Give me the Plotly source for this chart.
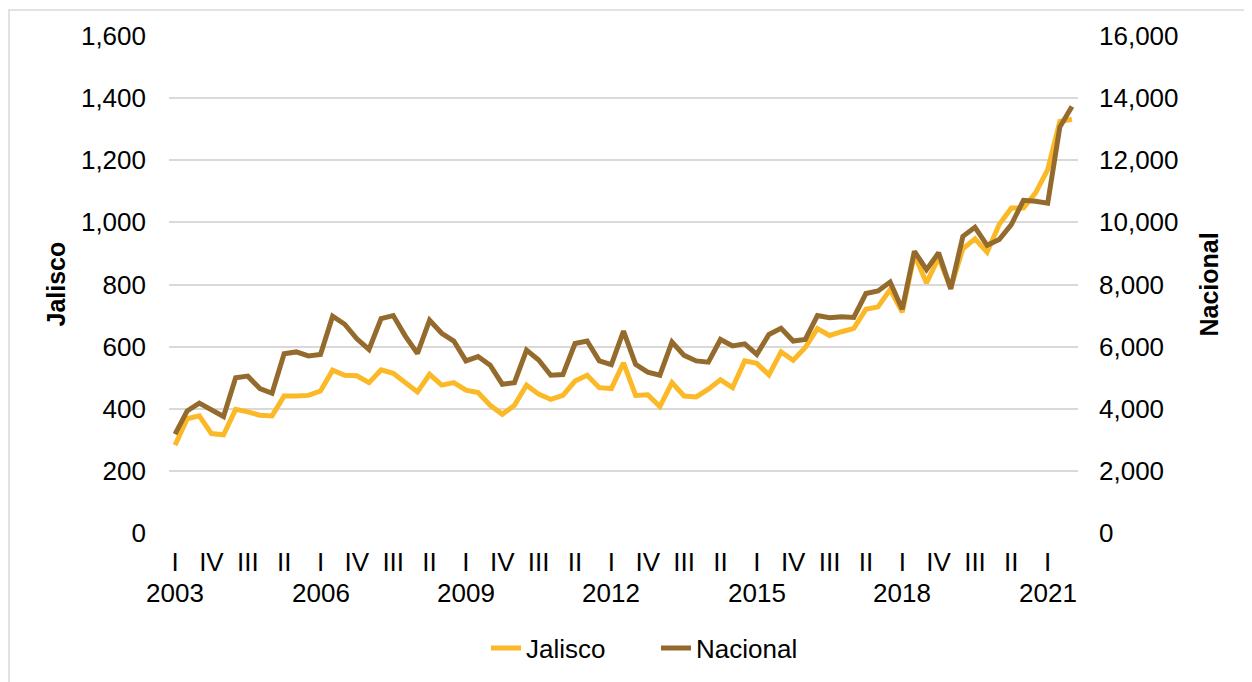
import plotly.graph_objects as go

YEARS = list(range(2003, 2022))
QUARTERS = ["I", "II", "III", "IV"]
periods = [f"{y}-{q}" for y in YEARS for q in QUARTERS][:75]  # 2003-I .. 2021-III

jalisco = [283, 368, 377, 320, 316, 398, 390, 379, 377, 441,
           441, 443, 457, 524, 508, 506, 484, 525, 514, 486,
           454, 511, 476, 484, 460, 452, 411, 382, 411, 476,
           447, 430, 443, 489, 508, 468, 465, 548, 443, 445,
           407, 484, 441, 438, 463, 493, 468, 554, 546, 509,
           583, 556, 597, 658, 636, 648, 659, 720, 728, 784,
           711, 896, 805, 886, 789, 915, 947, 904, 993, 1046,
           1046, 1095, 1170, 1325, 1332]

nacional = [3180, 3930, 4180, 3980, 3750, 5000, 5050, 4650, 4500, 5770,
            5830, 5700, 5750, 6980, 6720, 6250, 5910, 6900, 7000, 6340,
            5780, 6850, 6430, 6180, 5540, 5680, 5400, 4790, 4840, 5890,
            5570, 5080, 5100, 6100, 6180, 5540, 5420, 6500, 5430, 5180,
            5080, 6150, 5720, 5540, 5500, 6230, 6020, 6090, 5750, 6390,
            6590, 6180, 6230, 7000, 6930, 6960, 6940, 7710, 7790, 8080,
            7200, 9070, 8480, 9020, 7860, 9550, 9840, 9260, 9450, 9930,
            10710, 10680, 10620, 13070, 13730]

left_ticks = [0, 200, 400, 600, 800, 1000, 1200, 1400, 1600]
right_ticks = [0, 2000, 4000, 6000, 8000, 10000, 12000, 14000, 16000]

tick_idx = list(range(0, 75, 3))
tick_vals = [periods[i] for i in tick_idx]
tick_text = [periods[i].split("-")[1] for i in tick_idx]
year_labels = [p for p in tick_vals if p.endswith("-I") and (int(p[:4]) - 2003) % 3 == 0]

FONT = "Liberation Sans, Arial, sans-serif"
OFF = 8  # default page body margin
W, H = 1252 - OFF, 682 - OFF
# target page-pixel plot box: x 169..1078, y 36..534
ML, MT = 169 - OFF, 36 - OFF
MR = W - (1078 - OFF)
MB = H - (534 - OFF)
pw = W - ML - MR
ph = H - MT - MB

def px_x(px):
    return (px - OFF - ML) / pw

def px_y(py):
    return (H - MB - (py - OFF)) / ph

fig = go.Figure()
fig.add_trace(go.Scatter(x=periods, y=jalisco, name="Jalisco", mode="lines",
                         line=dict(color="#FBB927", width=5), yaxis="y"))
fig.add_trace(go.Scatter(x=periods, y=nacional, name="Nacional", mode="lines",
                         line=dict(color="#946B2D", width=5), yaxis="y2"))

annotations = [
    dict(text="<b>Jalisco</b>", x=px_x(55), y=0.5, xref="paper", yref="paper",
         textangle=-90, showarrow=False, xanchor="center", yanchor="middle",
         font=dict(size=25)),
    dict(text="<b>Nacional</b>", x=px_x(1208), y=0.5, xref="paper", yref="paper",
         textangle=-90, showarrow=False, xanchor="center", yanchor="middle",
         font=dict(size=25)),
]
for p in year_labels:
    annotations.append(dict(text=p[:4], x=p, xref="x", y=px_y(594), yref="paper",
                            showarrow=False, xanchor="center", yanchor="middle",
                            font=dict(size=26)))

fig.update_layout(
    width=W, height=H,
    margin=dict(l=ML, r=MR, t=MT, b=MB),
    paper_bgcolor="white", plot_bgcolor="white",
    font=dict(family=FONT, size=26, color="black"),
    xaxis=dict(type="category", range=[-0.5, 74.5], tickmode="array",
               tickvals=tick_vals, ticktext=tick_text, tickangle=0,
               showgrid=False, showline=False, zeroline=False, ticks="",
               ticklabelstandoff=11),
    yaxis=dict(range=[0, 1600], tickvals=left_ticks, tickformat=",",
               showgrid=True, gridcolor="#D9D9D9", gridwidth=1.5,
               zeroline=False, showline=False, ticklabelstandoff=22),
    yaxis2=dict(range=[0, 16000], tickvals=right_ticks, tickformat=",",
                overlaying="y", side="right", showgrid=False,
                zeroline=False, showline=False, ticklabelstandoff=20),
    legend=dict(orientation="h", x=px_x(486), y=px_y(648), xanchor="left",
                yanchor="middle", font=dict(size=26), entrywidth=125,
                entrywidthmode="pixels", bgcolor="rgba(0,0,0,0)"),
    showlegend=True,
    annotations=annotations,
    shapes=[
        dict(type="rect", xref="paper", yref="paper",
             x0=px_x(9), x1=px_x(1270), y0=px_y(700), y1=px_y(10),
             line=dict(color="#D9D9D9", width=1.5), fillcolor="rgba(0,0,0,0)",
             layer="below"),
    ],
)

fig.write_html("out.html")
